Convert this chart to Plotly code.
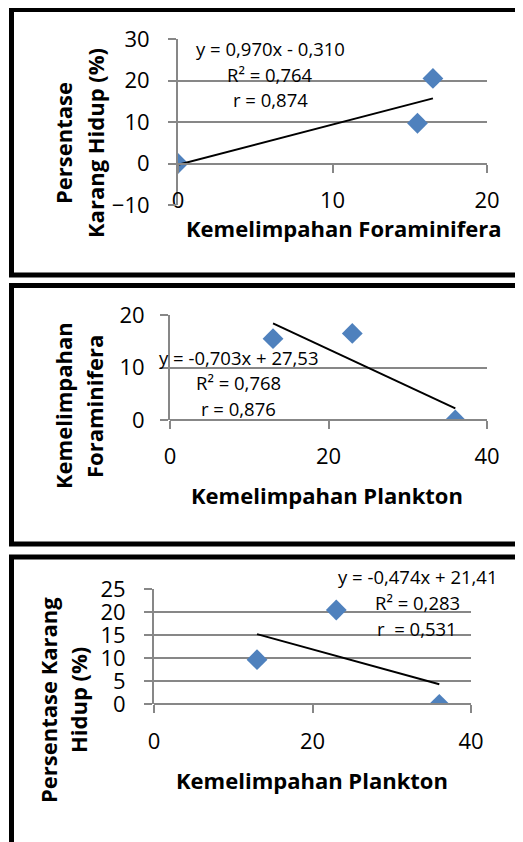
import plotly.graph_objects as go

# The page puts the figure 8 px in from the top-left corner of the window,
# so the figure is laid out in window pixels shifted by that body margin.
OFF = 8
W, H = 523 - OFF, 842 - OFF

# ---- data (per station) ----
plankton = [13, 23, 36]          # Kemelimpahan Plankton
foraminifera = [15.5, 16.5, 0]   # Kemelimpahan Foraminifera
coral = [9.7, 20.5, 0]           # Persentase Karang Hidup (%)

# regression coefficients reported on the chart (slope, intercept)
fit1 = [0.970, -0.310]
fit2 = [-0.703, 27.53]
fit3 = [-0.474, 21.41]

eq1 = ["y = 0,970x - 0,310", "R² = 0,764", "r = 0,874"]
eq2 = ["y = -0,703x + 27,53", "R² = 0,768", "r = 0,876"]
eq3 = ["y = -0,474x + 21,41", "R² = 0,283", "r  = 0,531"]

x_ticks1 = [0, 10, 20]
y_ticks1 = [-10, 0, 10, 20, 30]
x_ticks2 = [0, 20, 40]
y_ticks2 = [0, 10, 20]
x_ticks3 = [0, 20, 40]
y_ticks3 = [0, 5, 10, 15, 20, 25]

FONT = "Open Sans"
GRID = "#878787"
BLUE = "#4F81BD"

def px(x):
    return (x - OFF) / W

def py(y):
    return 1 - (y - OFF) / H

fig = go.Figure()

def add_panel(i, xs, ys, fit, xdom_px, ydom_px, xticks, yticks, ystand):
    sfx = "" if i == 1 else str(i)
    xa, ya = "x" + sfx, "y" + sfx
    fig.add_trace(go.Scatter(x=xs, y=ys, mode="markers", xaxis=xa, yaxis=ya,
                             marker=dict(symbol="diamond", size=16, color=BLUE),
                             showlegend=False, hoverinfo="skip"))
    x0, x1 = min(xs), max(xs)
    fig.add_trace(go.Scatter(x=[x0, x1], y=[fit[0] * x0 + fit[1], fit[0] * x1 + fit[1]],
                             mode="lines", xaxis=xa, yaxis=ya,
                             line=dict(color="black", width=2),
                             showlegend=False, hoverinfo="skip"))
    ydom = [py(ydom_px[1]), py(ydom_px[0])]
    yr = [min(yticks), max(yticks)]
    # paper position of y = 0
    zero = ydom[0] + (0 - yr[0]) / (yr[1] - yr[0]) * (ydom[1] - ydom[0])
    fig.update_layout(**{
        "xaxis" + sfx: dict(domain=[px(xdom_px[0]), px(xdom_px[1])],
                            range=[min(xticks), max(xticks)], tickvals=xticks,
                            anchor="free", position=zero, automargin=False,
                            showgrid=False, zeroline=False,
                            showline=True, linecolor=GRID, linewidth=2,
                            ticks="outside", ticklen=8, tickwidth=2, tickcolor=GRID,
                            ticklabelstandoff=9,
                            tickfont=dict(family=FONT, size=22, color="black")),
        "yaxis" + sfx: dict(domain=ydom, range=yr, tickvals=yticks,
                            anchor=xa, automargin=False,
                            showgrid=True, gridcolor=GRID, gridwidth=2,
                            zeroline=False,
                            showline=True, linecolor=GRID, linewidth=2,
                            ticks="outside", ticklen=8, tickwidth=2, tickcolor=GRID,
                            ticklabelstandoff=ystand,
                            tickfont=dict(family=FONT, size=22, color="black")),
    })

add_panel(1, foraminifera, coral, fit1, (178, 487), (39, 205), x_ticks1, y_ticks1, 14)
add_panel(2, plankton, foraminifera, fit2, (170, 487), (315, 420), x_ticks2, y_ticks2, 11)
add_panel(3, plankton, coral, fit3, (154, 471), (589.3, 704.3), x_ticks3, y_ticks3, 14)

ann = []

def text(t, x, y, size, bold=False, angle=0):
    ann.append(dict(text=("<b>%s</b>" % t) if bold else t, x=px(x), y=py(y),
                    xref="paper", yref="paper", xanchor="center", yanchor="middle",
                    showarrow=False, textangle=angle,
                    font=dict(family=FONT, size=size, color="black")))

# regression labels
for t, yy in zip(eq1, (48, 75, 100)):
    text(t, 270, yy, 18.5)
for t, yy in zip(eq2, (357, 382, 408)):
    text(t, 238, yy, 18.5)
for t, yy in zip(eq3, (576, 602, 628)):
    text(t, 417, yy, 18.5)

# axis titles
text("Kemelimpahan Foraminifera", 344, 228, 22, bold=True)
text("Persentase", 63, 143, 22, bold=True, angle=-90)
text("Karang Hidup (%)", 95, 143, 22, bold=True, angle=-90)

text("Kemelimpahan Plankton", 327, 495, 22, bold=True)
text("Kemelimpahan", 63, 406, 22, bold=True, angle=-90)
text("Foraminifera", 94, 407, 22, bold=True, angle=-90)

text("Kemelimpahan Plankton", 312, 780, 22, bold=True)
text("Persentase Karang", 48, 700, 22, bold=True, angle=-90)
text("Hidup (%)", 78, 700, 22, bold=True, angle=-90)

# panel borders
shapes = []
for top, bottom in ((9.5, 275), (285.5, 544), (557, 900)):
    shapes.append(dict(type="rect", xref="paper", yref="paper",
                       x0=px(11.5), x1=px(560), y0=py(bottom), y1=py(top),
                       line=dict(color="black", width=5), fillcolor="rgba(0,0,0,0)",
                       layer="above"))

fig.update_layout(width=W, height=H, margin=dict(l=0, r=0, t=0, b=0, autoexpand=False),
                  paper_bgcolor="white", plot_bgcolor="white",
                  annotations=ann, shapes=shapes, showlegend=False)

fig.write_html("out.html")
